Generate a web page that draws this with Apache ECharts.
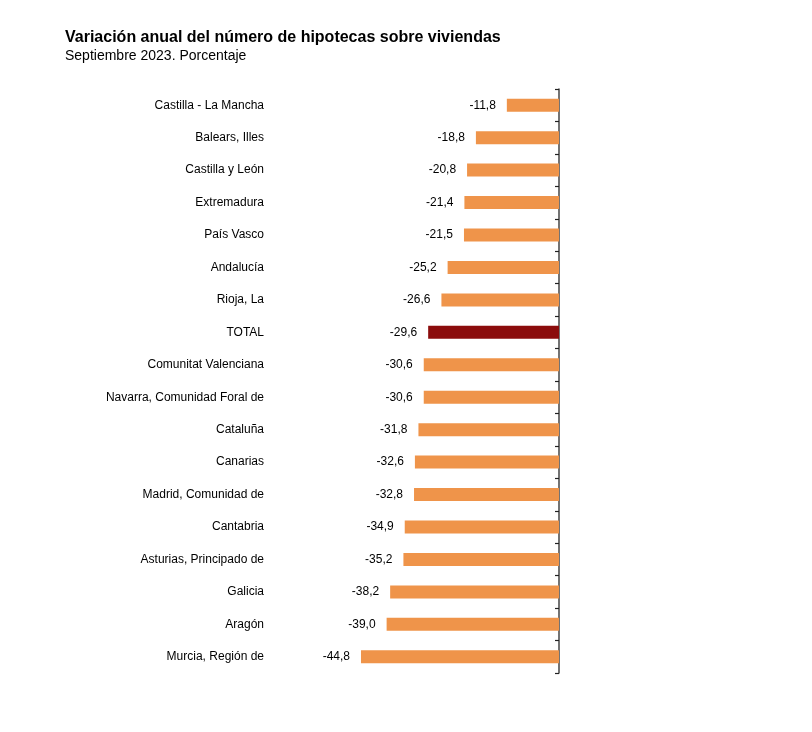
<!DOCTYPE html>
<html><head><meta charset="utf-8">
<script src="https://cdn.jsdelivr.net/npm/echarts@6/dist/echarts.min.js"></script>
<style>html,body{margin:0;padding:0;background:#fff}#c{width:812px;height:732px}</style>
</head><body><div id="c"></div>
<script>
const categories = ["Castilla - La Mancha","Balears, Illes","Castilla y León","Extremadura","País Vasco","Andalucía","Rioja, La","TOTAL","Comunitat Valenciana","Navarra, Comunidad Foral de","Cataluña","Canarias","Madrid, Comunidad de","Cantabria","Asturias, Principado de","Galicia","Aragón","Murcia, Región de"];
const values = [-11.8,-18.8,-20.8,-21.4,-21.5,-25.2,-26.6,-29.6,-30.6,-30.6,-31.8,-32.6,-32.8,-34.9,-35.2,-38.2,-39.0,-44.8];
const highlight = "TOTAL";

const chart = echarts.init(document.getElementById('c'), null, {renderer:'canvas'});
chart.setOption({
  animation:false,
  title:{
    text:'Variación anual del número de hipotecas sobre viviendas',
    subtext:'Septiembre 2023. Porcentaje',
    left:65, top:30, padding:0, itemGap:3,
    textStyle:{fontFamily:'Liberation Sans',fontSize:16,fontWeight:'bold',color:'#000'},
    subtextStyle:{fontFamily:'Liberation Sans',fontSize:14,color:'#000'}
  },
  grid:{left:338,right:253,top:89,bottom:59},
  xAxis:{type:'value',min:-50,max:0,show:false},
  yAxis:[
    {type:'category',data:categories,inverse:true,position:'left',
     axisLine:{show:false},axisTick:{show:false},
     axisLabel:{margin:74,fontFamily:'Liberation Sans',fontSize:12,color:'#000'}},
    {type:'category',data:categories,inverse:true,position:'right',
     axisLine:{show:true,lineStyle:{color:'#444',width:1.5}},
     axisTick:{show:true,inside:true,length:4,lineStyle:{color:'#222',width:1.2}},
     axisLabel:{show:false}}
  ],
  series:[{
    type:'bar',yAxisIndex:0,barWidth:13,
    data:values.map((v,i)=>({value:v,itemStyle:{color:categories[i]===highlight?'#8b0c0c':'#ef944a'}})),
    label:{show:true,position:'left',distance:11,fontFamily:'Liberation Sans',fontSize:12,color:'#000',
      formatter:p=>p.value.toFixed(1).replace('.',',')}
  }]
});
</script></body></html>
